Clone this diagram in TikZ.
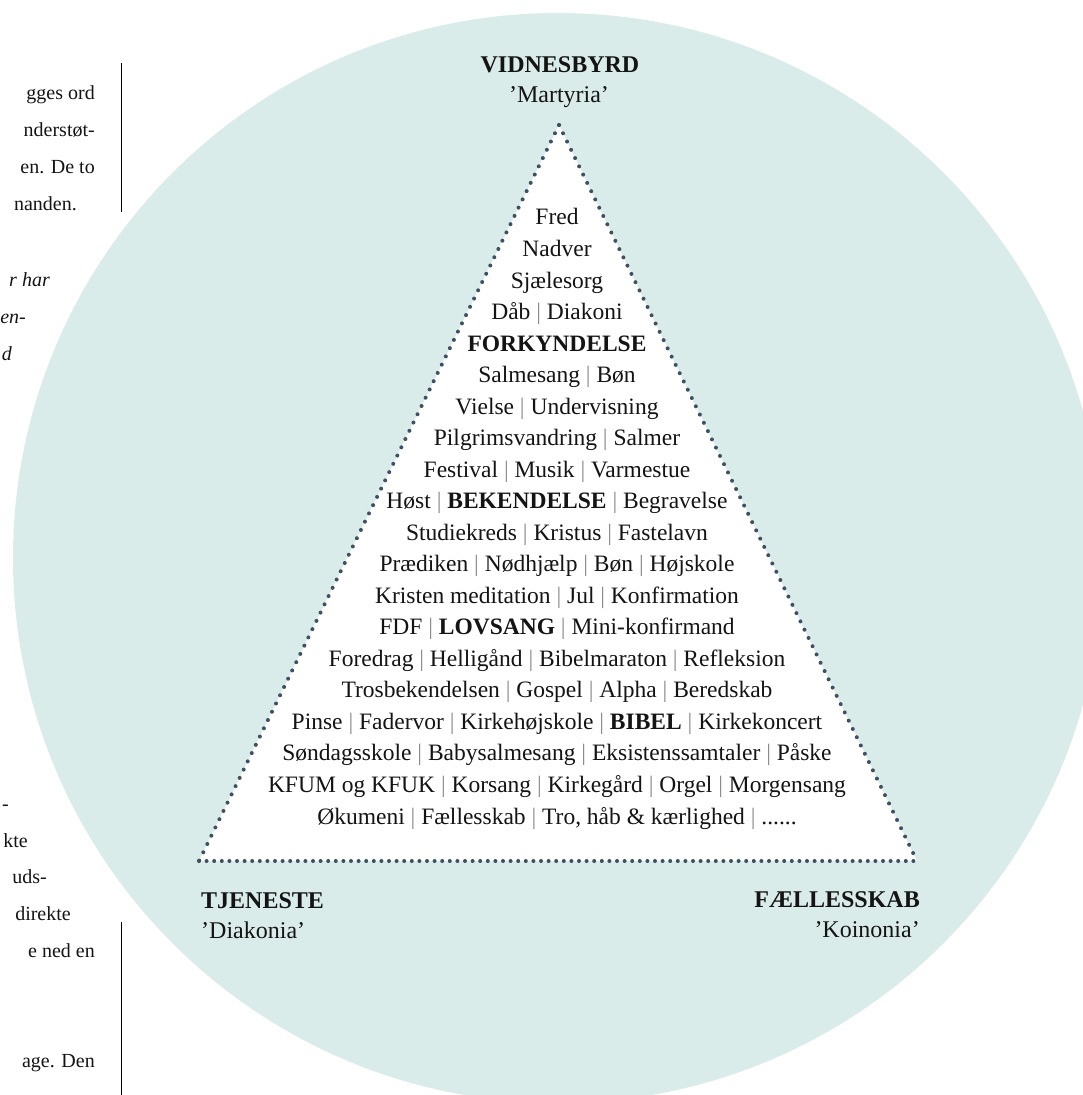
\documentclass[tikz,border=0pt]{standalone}
\usepackage{fontspec}
\setmainfont{Liberation Serif}
\definecolor{mint}{RGB}{218,236,234}
\definecolor{slate}{RGB}{61,81,99}
\definecolor{ink}{RGB}{20,20,20}
\newcommand{\sepbar}{{\color{black!45}|}}

\begin{document}
\begin{tikzpicture}[x=1pt, y=-1pt,
    every node/.style={inner sep=0pt, text=ink},
    title/.style={font=\fontsize{24}{24}\selectfont\bfseries},
    greek/.style={font=\fontsize{24}{24}\selectfont},
    items/.style={align=center, anchor=base, font=\fontsize{23.5}{31.53}\selectfont},
    sidedots/.style={slate, line width=4pt, line cap=round, dash pattern=on 0pt off 9.2pt},
    basedots/.style={slate, line width=4pt, line cap=round, dash pattern=on 0pt off 7.6pt},
    pagetext/.style={anchor=base east, font=\fontsize{20}{20}\selectfont},
    rule/.style={black, line width=0.8pt}]

   \useasboundingbox (0,0) rectangle (1082,1095);

   % circle behind
   \fill[mint] (558,558) circle[radius=545pt];

   % triangle
   \coordinate (top) at (559,125);
   \coordinate (bl) at (199,861);
   \coordinate (br) at (917,861);
   \fill[white] (top) -- (bl) -- (br) -- cycle;
   \path[sidedots] (top) edge (bl);
   \path[sidedots] (top) edge (br);
   \path[basedots] (bl) edge (br);

   % corners
   \node[title, anchor=base] (vid) at (560,72) {VIDNESBYRD};
   \node[greek, anchor=base] (mar) at (559,102) {’Martyria’};
   \node[title, anchor=base west] (tje) at (201,908) {TJENESTE};
   \node[greek, anchor=base west] (dia) at (201,938) {’Diakonia’};
   \node[title, anchor=base east] (fael) at (920,907) {FÆLLESSKAB};
   \node[greek, anchor=base east] (koi) at (920,937) {’Koinonia’};

   % words inside (base = last line)
   \node[items] (list) at (557,824) {Fred\\
     Nadver\\
     Sjælesorg\\
     Dåb \sepbar{} Diakoni\\
     \textbf{FORKYNDELSE}\\
     Salmesang \sepbar{} Bøn\\
     Vielse \sepbar{} Undervisning\\
     Pilgrimsvandring \sepbar{} Salmer\\
     Festival \sepbar{} Musik \sepbar{} Varmestue\\
     Høst \sepbar{} \textbf{BEKENDELSE} \sepbar{} Begravelse\\
     Studiekreds \sepbar{} Kristus \sepbar{} Fastelavn\\
     Prædiken \sepbar{} Nødhjælp \sepbar{} Bøn \sepbar{} Højskole\\
     Kristen meditation \sepbar{} Jul \sepbar{} Konfirmation\\
     FDF \sepbar{} \textbf{LOVSANG} \sepbar{} Mini-konfirmand\\
     Foredrag \sepbar{} Helligånd \sepbar{} Bibelmaraton \sepbar{} Refleksion\\
     Trosbekendelsen \sepbar{} Gospel \sepbar{} Alpha \sepbar{} Beredskab\\
     Pinse \sepbar{} Fadervor \sepbar{} Kirkehøjskole \sepbar{} \textbf{BIBEL} \sepbar{} Kirkekoncert\\
     Søndagsskole \sepbar{} Babysalmesang \sepbar{} Eksistenssamtaler \sepbar{} Påske\\
     KFUM og KFUK \sepbar{} Korsang \sepbar{} Kirkegård \sepbar{} Orgel \sepbar{} Morgensang\\
     Økumeni \sepbar{} Fællesskab \sepbar{} Tro, håb \& kærlighed \sepbar{} ......};

   % page text at the left edge
   \node[pagetext] (p1) at (95,99) {gges ord};
   \node[pagetext] (p2) at (95,136) {nderstøt-};
   \node[pagetext] (p3) at (95,173) {en. De to};
   \node[pagetext] (p4) at (77,210) {nanden.};
   \node[pagetext, font=\fontsize{20}{20}\selectfont\itshape] (p5) at (50,286) {r har};
   \node[pagetext, font=\fontsize{20}{20}\selectfont\itshape] (p6) at (26,323) {en-};
   \node[pagetext, font=\fontsize{20}{20}\selectfont\itshape] (p7) at (12,360) {d};
   \node[pagetext] (p8) at (9,810) {-};
   \node[pagetext] (p9) at (28,847) {kte};
   \node[pagetext] (p10) at (47,883) {uds-};
   \node[pagetext] (p11) at (71,920) {direkte};
   \node[pagetext] (p12) at (95,957) {e ned en};
   \node[pagetext] (p13) at (95,1067) {age. Den};

   \coordinate (r1) at (121,63);
   \coordinate (r2) at (121,212);
   \coordinate (r3) at (121,922);
   \coordinate (r4) at (121,1095);
   \draw[rule] (r1) -- (r2);
   \draw[rule] (r3) -- (r4);

\end{tikzpicture}
\end{document}
